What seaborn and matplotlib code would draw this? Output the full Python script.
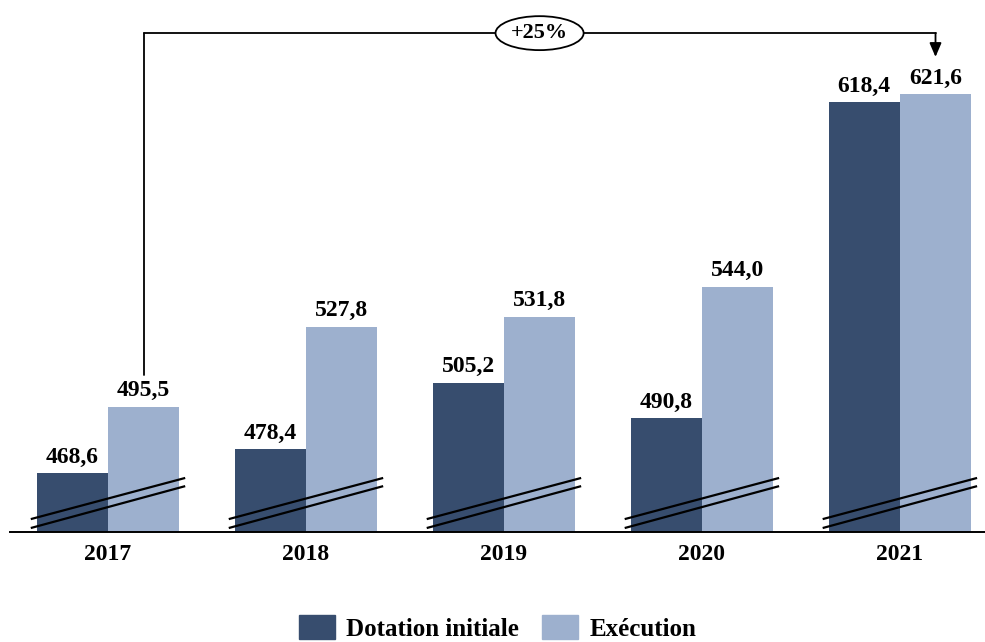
import matplotlib
matplotlib.use("Agg")
import matplotlib.pyplot as plt
from matplotlib.patches import Ellipse
import seaborn as sns
import pandas as pd

years = ["2017", "2018", "2019", "2020", "2021"]
dotation_initiale = [468.6, 478.4, 505.2, 490.8, 618.4]
execution = [495.5, 527.8, 531.8, 544.0, 621.6]
series_names = ["Dotation initiale", "Exécution"]
growth_label = "+25%"

dark_blue = "#374D6E"
light_blue = "#9DB0CE"

df = pd.DataFrame({
    "annee": years * 2,
    "montant": dotation_initiale + execution,
    "serie": [series_names[0]] * len(years) + [series_names[1]] * len(years),
})

sns.set_theme(style="white")
plt.rcParams["font.family"] = ["Liberation Serif", "DejaVu Serif"]
plt.rcParams["font.weight"] = "bold"
plt.rcParams["text.color"] = "black"
plt.rcParams["xtick.color"] = "black"
plt.rcParams["xtick.labelcolor"] = "black"

fig = plt.figure(figsize=(9.85, 6.42), dpi=100)
W, H = 985, 642
ax = fig.add_axes([10 / W, (H - 532) / H, (985 - 10) / W, (532 - 20) / H])

sns.barplot(data=df, x="annee", y="montant", hue="serie", order=years,
            hue_order=series_names, palette=[dark_blue, light_blue],
            width=0.72, saturation=1, errorbar=None, legend=True, ax=ax,
            linewidth=0)

y0, y1 = 445, 651.5
ax.set_ylim(y0, y1)
ax.set_xlim(-0.495, 4.43)

def fr(v):
    return f"{v:.1f}".replace(".", ",")

for cont, vals in zip(ax.containers, [dotation_initiale, execution]):
    ax.bar_label(cont, labels=[fr(v) for v in vals], padding=4,
                 fontsize=17, fontweight="bold", color="black")

# axis styling: only the baseline remains
for s in ["left", "right", "top"]:
    ax.spines[s].set_visible(False)
ax.spines["bottom"].set_color("black")
ax.spines["bottom"].set_linewidth(1.4)
ax.set_yticks([])
ax.set_xlabel("")
ax.set_ylabel("")
ax.tick_params(axis="x", length=0, pad=9, labelsize=17, labelcolor="black")
for t in ax.get_xticklabels():
    t.set_fontweight("bold")

# axis-break marks across each pair of bars
for i in range(len(years)):
    for ya, yb in [(450.2, 466.8), (446.6, 463.5)]:
        ax.plot([i - 0.39, i + 0.39], [ya, yb], color="black", lw=1.6,
                solid_capstyle="butt", zorder=5)

# growth connector from 2017 execution to 2021 execution
x_start = 0 + 0.18
x_end = 4 + 0.18
y_top = 646.2
ax.plot([x_start, x_start], [execution[0] + 13, y_top], color="black",
        lw=1.3, clip_on=False)
x_mid = 2.18
ax.plot([x_start, x_mid - 0.222], [y_top, y_top], color="black", lw=1.3,
        clip_on=False)
ax.plot([x_mid + 0.222, x_end], [y_top, y_top], color="black", lw=1.3,
        clip_on=False)
ax.annotate("", xy=(x_end, 636.6), xytext=(x_end, y_top),
            arrowprops=dict(arrowstyle="-|>,head_length=0.7,head_width=0.3",
                            color="black", lw=1.3, shrinkA=0, shrinkB=0),
            annotation_clip=False)
ax.add_patch(Ellipse((x_mid, y_top), width=0.445, height=13.7,
                     facecolor="white", edgecolor="black", lw=1.3,
                     clip_on=False, zorder=6))
ax.text(x_mid, y_top, growth_label, ha="center", va="center", fontsize=16,
        fontweight="bold", zorder=7)

# legend below the chart
ax.get_legend().remove()
handles = [plt.Rectangle((0, 0), 1, 1, color=dark_blue),
           plt.Rectangle((0, 0), 1, 1, color=light_blue)]
fig.legend(handles, series_names, loc="upper center",
           bbox_to_anchor=(0.505, (H - 615) / H), ncol=2, frameon=False,
           prop={"size": 18, "weight": "bold"}, handlelength=1.45,
           handleheight=1.1, handletextpad=0.45, columnspacing=0.9,
           borderpad=0, borderaxespad=0)

fig.savefig("out.png", dpi=100)
